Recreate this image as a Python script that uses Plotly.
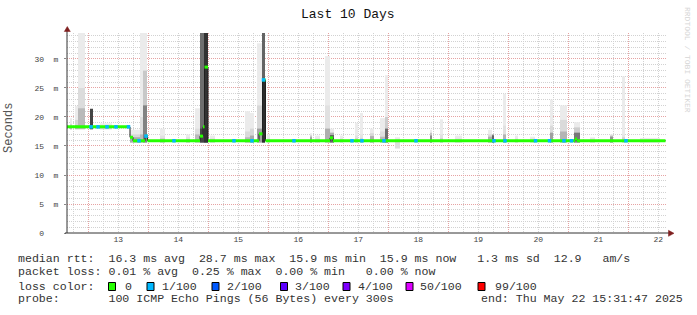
import plotly.graph_objects as go
import pandas as pd

# ---------------- data ----------------
START = pd.Timestamp("2025-05-12 15:31:47")
END = pd.Timestamp("2025-05-22 15:31:47")

# median RTT as a step function: hours since START, value in ms
median_h = [0, 25.2, 26.4, 31.2, 32.2, 53.2, 54.4, 55.0, 56.4, 76.8, 78.2, 79.4,
            105.2, 106.4, 203.2, 204.0, 239.4]
median_ms = [18.3, 16.5, 15.9, 16.7, 15.9, 16.7, 18.3, 28.6, 15.9, 17.1, 26.4, 15.9,
             16.4, 15.9, 16.2, 15.9, 15.9]

# times (hours since START) where 1/100 packets were lost
loss1_h = [9.6, 12.4, 16.0, 19.6, 24.6, 28.8, 31.6, 42.8, 66.8, 74.0, 78.6, 90.8,
           114.0, 118.0, 126.8, 139.6, 170.8, 175.2, 187.4, 193.0, 198.8, 201.8, 223.6]

# smoke columns: start/end (hours since START), low, top, mid, core (ms), gray shades
smoke_h0 = [1.2, 3.2, 4.4, 9.2, 13.2, 25.2, 29.2, 30.4, 37.2, 47.6, 51.2, 53.2, 54.8, 57.2,
            71.2, 73.2, 76.0, 78.0, 80.0, 97.2, 99.2, 103.2, 105.2, 109.2, 115.2, 117.2,
            121.2, 125.2, 127.2, 131.2, 145.2, 149.2, 155.2, 168.4, 170.0, 174.4, 179.2,
            185.2, 193.2, 197.2, 202.8, 209.2, 217.2, 222.0, 229.2]
smoke_h1 = [2.0, 4.4, 7.2, 10.4, 18.0, 29.2, 30.4, 32.0, 39.2, 49.2, 53.2, 54.8, 56.4, 59.2,
            73.2, 74.8, 78.0, 79.2, 81.2, 98.0, 101.2, 105.2, 106.8, 110.4, 116.4, 118.4,
            122.8, 127.2, 128.4, 133.2, 146.0, 150.4, 158.0, 170.0, 170.8, 175.6, 180.4,
            187.2, 194.4, 200.0, 205.2, 211.2, 218.4, 223.2, 237.2]
smoke_low = [17.9, 17.9, 17.9, 17.9, 17.9, 15.6, 15.6, 15.6, 15.6, 15.6, 15.6, 15.6, 15.6, 15.6,
             15.6, 15.6, 15.6, 15.6, 15.6, 15.6, 15.6, 15.6, 15.6, 15.6, 15.6, 15.6,
             15.6, 15.6, 15.6, 14.6, 15.6, 15.6, 15.6, 15.6, 15.6, 15.6, 15.6,
             15.6, 15.6, 15.6, 15.6, 15.6, 15.6, 15.6, 15.6]
smoke_top = [19.8, 21.9, 34.5, 21.4, 18.9, 17.8, 34.5, 34.5, 18.0, 17.0, 21.5, 34.5, 34.5, 16.8,
             21.0, 20.7, 32.7, 34.5, 17.0, 17.2, 16.8, 30.5, 18.0, 16.8, 19.0, 20.7,
             18.0, 19.8, 27.2, 16.5, 17.8, 19.6, 16.8, 17.8, 17.0, 24.0, 16.8,
             16.6, 23.0, 22.0, 19.1, 16.5, 17.0, 27.0, 16.4]
smoke_mid = [18.8, 19.5, 25.0, 21.4, 18.5, 17.0, 20.0, 28.0, 16.8, 16.5, 18.0, 34.5, 34.5, 16.4,
             17.5, 18.0, 22.0, 34.5, 16.4, 16.8, 16.4, 22.0, 17.3, 16.4, 16.8, 17.0,
             17.2, 17.5, 20.0, 16.2, 17.3, 17.0, 16.4, 17.0, 17.0, 18.5, 16.4,
             16.3, 18.5, 19.5, 18.2, 16.3, 16.8, 17.0, 16.2]
smoke_core = [18.5, 18.6, 21.5, 21.4, 18.3, 16.5, 17.0, 22.0, 16.3, 16.2, 17.0, 18.0, 34.5, 16.2,
              16.5, 16.8, 18.0, 26.2, 16.2, 16.5, 16.2, 18.0, 16.9, 16.2, 16.3, 16.4,
              16.7, 16.6, 18.0, 16.0, 16.8, 16.3, 16.2, 16.6, 16.8, 17.0, 16.2,
              16.1, 17.3, 17.5, 17.3, 16.1, 16.6, 16.5, 16.0]
smoke_mid_gray = [215, 215, 220, 68, 225, 215, 222, 200, 225, 225, 222, 110, 50, 228,
                  218, 215, 215, 100, 228, 200, 230, 225, 175, 230, 225, 228,
                  215, 222, 205, 230, 195, 225, 230, 215, 150, 225, 230,
                  230, 218, 218, 205, 230, 195, 230, 235]
smoke_core_gray = [185, 180, 185, 68, 205, 170, 185, 130, 200, 200, 185, 70, 50, 215,
                   185, 170, 160, 45, 215, 160, 220, 175, 100, 220, 205, 215,
                   175, 185, 110, 222, 140, 205, 222, 175, 100, 180, 222,
                   222, 160, 180, 120, 222, 150, 210, 228]

day_labels = ["13", "14", "15", "16", "17", "18", "19", "20", "21", "22"]
day_noons = ["2025-05-%s 12:00:00" % d for d in day_labels]

y_tick_vals = [0, 5, 10, 15, 20, 25, 30]
y_tick_nums = ["0", "5", "10", "15", "20", "25", "30"]
y_tick_units = ["", "m", "m", "m", "m", "m", "m"]

legend_lines = [
    "median rtt:  16.3 ms avg  28.7 ms max  15.9 ms min  15.9 ms now   1.3 ms sd  12.9   am/s",
    "packet loss: 0.01 % avg  0.25 % max  0.00 % min   0.00 % now",
    "loss color:",
    "probe:       100 ICMP Echo Pings (56 Bytes) every 300s",
]
loss_labels = ["0", "1/100", "2/100", "3/100", "4/100", "50/100", "99/100"]
loss_colors = ["#26ff00", "#00b8ff", "#0059ff", "#5e00ff", "#7e00ff", "#dd00ff", "#ff0000"]
end_text = "end: Thu May 22 15:31:47 2025"

# ---------------- helpers ----------------
PL, PT, PW, PH = 67, 33, 600, 200   # plot area in pixels
W, H = 697, 315


def at(h):
    return START + pd.to_timedelta(h, unit="h")


def px(X):
    return (X - PL) / PW


def py(Y):
    return (PT + PH - Y) / PH


def nb(s):
    return s.replace(" ", "\u00a0")


def gray(g):
    return "rgb(%d,%d,%d)" % (g, g, g)


def median_at(h):
    v = median_ms[0]
    for hh, mm in zip(median_h, median_ms):
        if hh <= h:
            v = mm
    return v


MONO = "Liberation Mono, Courier New, monospace"

fig = go.Figure()

# ---------------- smoke ----------------
centers = [at((a + b) / 2) for a, b in zip(smoke_h0, smoke_h1)]
widths = [(b - a) * 3600000 for a, b in zip(smoke_h0, smoke_h1)]
fig.add_trace(go.Bar(x=centers, y=[t - l for t, l in zip(smoke_top, smoke_low)], base=smoke_low,
                     width=widths, marker=dict(color="#ebebeb", line=dict(width=0)),
                     hoverinfo="skip"))
fig.add_trace(go.Bar(x=centers, y=[t - l for t, l in zip(smoke_mid, smoke_low)], base=smoke_low,
                     width=widths, marker=dict(color=[gray(g) for g in smoke_mid_gray], line=dict(width=0)),
                     hoverinfo="skip"))
fig.add_trace(go.Bar(x=centers, y=[t - l for t, l in zip(smoke_core, smoke_low)], base=smoke_low,
                     width=widths, marker=dict(color=[gray(g) for g in smoke_core_gray], line=dict(width=0)),
                     hoverinfo="skip"))

# ---------------- median ----------------
fig.add_trace(go.Scatter(x=[at(h) for h in median_h], y=median_ms, mode="lines",
                         line=dict(color="#202020", width=1, shape="hv"), hoverinfo="skip"))
gx, gy = [], []
for i in range(len(median_h) - 1):
    gx += [at(median_h[i]), at(median_h[i + 1]), None]
    gy += [median_ms[i], median_ms[i], None]
fig.add_trace(go.Scatter(x=gx, y=gy, mode="lines", line=dict(color=loss_colors[0], width=3),
                         hoverinfo="skip"))
fig.add_trace(go.Scatter(x=[at(h) for h in loss1_h], y=[median_at(h) for h in loss1_h], mode="markers",
                         marker=dict(symbol="square", size=3.5, color=loss_colors[1], line=dict(width=0)),
                         hoverinfo="skip"))

# dummy trace to activate the label axis
fig.add_trace(go.Scatter(x=[START], y=[None], xaxis="x2", mode="markers", hoverinfo="skip"))

MAJ = "#e6a3a3"
MIN = "#d2d2d2"
DOT = "1px,1px"

fig.update_layout(
    width=W, height=H,
    margin=dict(l=PL, r=W - PL - PW, t=PT, b=H - PT - PH),
    paper_bgcolor="white", plot_bgcolor="white",
    showlegend=False, barmode="overlay",
    font=dict(family=MONO, color="#333"),
    xaxis=dict(type="date", range=[START, END], tick0="2025-05-13 00:00:00", dtick=86400000,
               showgrid=True, gridcolor=MAJ, griddash=DOT, gridwidth=1,
               minor=dict(tick0="2025-05-13 00:00:00", dtick=21600000, showgrid=True,
                          gridcolor=MIN, griddash=DOT, gridwidth=1),
               showticklabels=False, ticks="", zeroline=False, showline=False, fixedrange=True),
    xaxis2=dict(type="date", overlaying="x", matches="x", anchor="y", side="bottom",
                tickmode="array", tickvals=day_noons, ticktext=day_labels,
                showgrid=False, ticks="", showline=False, zeroline=False,
                tickfont=dict(family=MONO, size=8, color="#444")),
    yaxis=dict(range=[0, 34.48], tickmode="array", tickvals=y_tick_vals,
               ticktext=[nb("%2s  %s" % (n, u if u else " ")) for n, u in zip(y_tick_nums, y_tick_units)],
               showgrid=True, gridcolor=MAJ, griddash=DOT, gridwidth=1,
               minor=dict(dtick=1, showgrid=True, gridcolor=MIN, griddash=DOT, gridwidth=1),
               ticks="outside", ticklen=2, tickcolor="#888", ticklabelstandoff=4,
               tickfont=dict(family=MONO, size=8, color="#444"),
               zeroline=False, showline=False, fixedrange=True),
)

# ---------------- axes lines and arrows ----------------
AX = "#333333"
ARW = "#7f1f1f"
shapes = [
    dict(type="line", xref="paper", yref="paper", x0=px(PL), x1=px(PL), y0=py(233), y1=py(30),
         line=dict(color=AX, width=1)),
    dict(type="line", xref="paper", yref="paper", x0=px(PL - 2), x1=px(669), y0=py(233), y1=py(233),
         line=dict(color=AX, width=1)),
    dict(type="path", xref="paper", yref="paper",
         path="M %f,%f L %f,%f L %f,%f Z" % (px(64.3), py(31.5), px(70.3), py(31.5), px(67.3), py(26.5)),
         fillcolor=ARW, line=dict(color=ARW, width=0.5)),
    dict(type="path", xref="paper", yref="paper",
         path="M %f,%f L %f,%f L %f,%f Z" % (px(668.5), py(230.3), px(668.5), py(236.3), px(674), py(233.3)),
         fillcolor=ARW, line=dict(color=ARW, width=0.5)),
]

# legend swatches
box_x = [108.5, 147, 212, 280.5, 343, 406, 478]
lab_x = [123, 160, 225, 293, 355.5, 418, 493]
for bx, c in zip(box_x, loss_colors):
    shapes.append(dict(type="rect", xref="paper", yref="paper", x0=px(bx), x1=px(bx + 7),
                       y0=py(290.5), y1=py(282.5), fillcolor=c, line=dict(color="black", width=1)))
fig.update_layout(shapes=shapes)

ann = []
ann.append(dict(text="Last 10 Days", xref="paper", yref="paper", x=px(348), y=py(14),
                xanchor="center", yanchor="middle", showarrow=False,
                font=dict(family=MONO, size=13, color="#111")))
ann.append(dict(text="Seconds", xref="paper", yref="paper", x=px(9), y=py(128), textangle=-90,
                xanchor="center", yanchor="middle", showarrow=False,
                font=dict(family=MONO, size=12, color="#555")))
ann.append(dict(text=nb("RRDTOOL / TOBI OETIKER"), xref="paper", yref="paper", x=px(688), y=py(60),
                textangle=90, xanchor="center", yanchor="middle", showarrow=False,
                font=dict(family=MONO, size=8, color="#d6d6d6")))
line_y = [258.5, 271.5, 286.5, 298.5]
for txt, yy in zip(legend_lines, line_y):
    ann.append(dict(text=nb(txt), xref="paper", yref="paper", x=px(16), y=py(yy),
                    xanchor="left", yanchor="middle", showarrow=False,
                    font=dict(family=MONO, size=11.6, color="#333")))
for lx, lt in zip(lab_x, loss_labels):
    ann.append(dict(text=lt, xref="paper", yref="paper", x=px(lx), y=py(286.5),
                    xanchor="left", yanchor="middle", showarrow=False,
                    font=dict(family=MONO, size=11.6, color="#333")))
ann.append(dict(text=nb(end_text), xref="paper", yref="paper", x=px(478.5), y=py(298.5),
                xanchor="left", yanchor="middle", showarrow=False,
                font=dict(family=MONO, size=11.6, color="#333")))
fig.update_layout(annotations=ann)

fig.write_html("out.html")
